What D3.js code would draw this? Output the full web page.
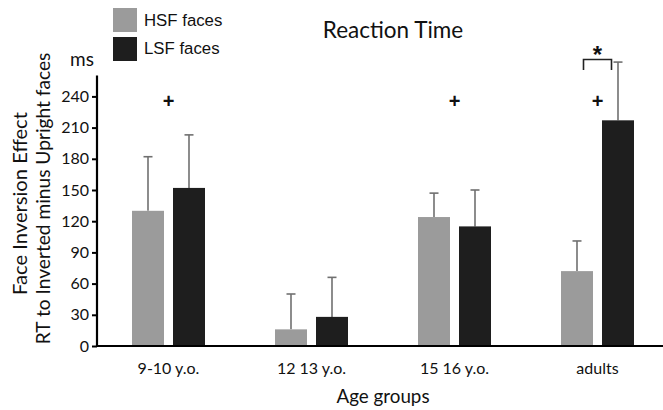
<!DOCTYPE html>
<html><head><meta charset="utf-8">
<script src="https://cdn.jsdelivr.net/npm/d3@7"></script>
<style>body{margin:0;background:#fff}svg{display:block}</style>
</head><body>
<svg id="c" width="663" height="410"></svg>
<script>
const categories = ["9-10 y.o.", "12 13 y.o.", "15 16 y.o.", "adults"];
const seriesNames = ["HSF faces", "LSF faces"];
const hsfValues = [130, 16, 124, 72];
const hsfErrTop = [182, 50, 147, 101];
const lsfValues = [152, 28, 115, 217];
const lsfErrTop = [203, 66, 150, 273];
const yTicks = [0, 30, 60, 90, 120, 150, 180, 210, 240];
const plusMarks = ["9-10 y.o.", "15 16 y.o.", "adults"];
const plusLevel = 236;
const starGroup = "adults";

const colors = {"HSF faces": "#9b9b9b", "LSF faces": "#1e1e1e"};
const svg = d3.select("#c");
const fontMain = "Lato, 'Open Sans', sans-serif";
const fontLegend = "'Liberation Sans', Arial, sans-serif";

const x0 = 97, yBase = 346;
const x = d3.scaleBand().domain(categories).range([x0, x0 + 4 * 143]).padding(0);
const y = d3.scaleLinear().domain([0, 240]).range([yBase, yBase - 249.6]);
const barW = 32, gap = 9;

const data = categories.map((c, i) => ({
  cat: c,
  bars: [
    {s: "HSF faces", v: hsfValues[i], e: hsfErrTop[i]},
    {s: "LSF faces", v: lsfValues[i], e: lsfErrTop[i]}
  ]
}));

// bars
const g = svg.append("g");
data.forEach(d => {
  const cx = x(d.cat) + x.bandwidth() / 2;
  d.bars.forEach((b, j) => {
    const bx = j === 0 ? cx - gap / 2 - barW : cx + gap / 2;
    const mid = bx + barW / 2;
    g.append("line").attr("x1", mid).attr("x2", mid).attr("y1", y(b.v)).attr("y2", y(b.e))
      .attr("stroke", "#707070").attr("stroke-width", 1.6);
    g.append("line").attr("x1", mid - 4.5).attr("x2", mid + 4.5).attr("y1", y(b.e)).attr("y2", y(b.e))
      .attr("stroke", "#707070").attr("stroke-width", 1.6);
    g.append("rect").attr("x", bx).attr("y", y(b.v)).attr("width", barW)
      .attr("height", y(0) - y(b.v)).attr("fill", colors[b.s]);
  });
});

// axes
const yAxis = d3.axisLeft(y).tickValues(yTicks).tickSize(5).tickPadding(3);
const ya = svg.append("g").attr("transform", `translate(${x0},0)`).call(yAxis);
ya.select(".domain").remove();
ya.selectAll(".tick line").attr("stroke", "#000").attr("stroke-width", 2);
ya.selectAll(".tick text").attr("font-family", fontMain).attr("font-size", 16).attr("fill", "#111");
svg.append("line").attr("x1", x0).attr("x2", x0).attr("y1", y(260)).attr("y2", yBase + 1)
  .attr("stroke", "#000").attr("stroke-width", 2.2);
svg.append("line").attr("x1", x0 - 1).attr("x2", 663).attr("y1", yBase).attr("y2", yBase)
  .attr("stroke", "#000").attr("stroke-width", 2.2);

const xAxis = d3.axisBottom(x).tickSize(0).tickPadding(17);
const xa = svg.append("g").attr("transform", `translate(0,${yBase})`).call(xAxis);
xa.select(".domain").remove();
xa.selectAll(".tick text").attr("font-family", fontMain).attr("font-size", 16).attr("fill", "#111");

// plus marks
plusMarks.forEach(c => {
  svg.append("text").attr("x", x(c) + x.bandwidth() / 2).attr("y", y(plusLevel) + 7)
    .attr("text-anchor", "middle").attr("font-family", fontLegend).attr("font-size", 20)
    .attr("font-weight", "bold").attr("fill", "#111").text("+");
});

// significance bracket
const sc = x(starGroup) + x.bandwidth() / 2;
svg.append("path")
  .attr("d", `M${sc - 14},${70} V${59.5} H${sc + 14} V${70}`)
  .attr("fill", "none").attr("stroke", "#222").attr("stroke-width", 1.6);
svg.append("text").attr("x", sc).attr("y", 63).attr("text-anchor", "middle")
  .attr("font-family", fontLegend).attr("font-size", 24).attr("font-weight", "bold")
  .attr("fill", "#111").text("*");

// title
svg.append("text").attr("x", 393).attr("y", 38).attr("text-anchor", "middle")
  .attr("font-family", fontMain).attr("font-size", 22.5).attr("fill", "#111").text("Reaction Time");

// ms label
svg.append("text").attr("x", 70).attr("y", 66).attr("font-family", fontMain)
  .attr("font-size", 19).attr("fill", "#111").text("ms");

// legend
seriesNames.forEach((s, i) => {
  svg.append("rect").attr("x", 113).attr("y", 8 + i * 29).attr("width", 24).attr("height", 24)
    .attr("fill", colors[s]);
  svg.append("text").attr("x", 144).attr("y", 25.5 + i * 28).attr("font-family", fontLegend)
    .attr("font-size", 16.8).attr("fill", "#111").text(s);
});

// y axis title (two lines, each sized to span its measured length)
function fitText(sel, target) {
  const len = sel.node().getComputedTextLength();
  const fs = +sel.attr("font-size");
  sel.attr("font-size", fs * target / len);
}
const t1 = svg.append("text").attr("transform", "translate(26.5,203.5) rotate(-90)")
  .attr("text-anchor", "middle").attr("font-family", fontMain).attr("font-size", 18)
  .attr("fill", "#111").text("Face Inversion Effect");
fitText(t1, 183);
const t2 = svg.append("text").attr("transform", "translate(50,198.5) rotate(-90)")
  .attr("text-anchor", "middle").attr("font-family", fontMain).attr("font-size", 18)
  .attr("fill", "#111").text("RT to Inverted minus Upright faces");
fitText(t2, 292);

// x axis title
svg.append("text").attr("x", 383).attr("y", 402.5).attr("text-anchor", "middle")
  .attr("font-family", fontMain).attr("font-size", 18.8).attr("fill", "#111").text("Age groups");
</script>
</body></html>
